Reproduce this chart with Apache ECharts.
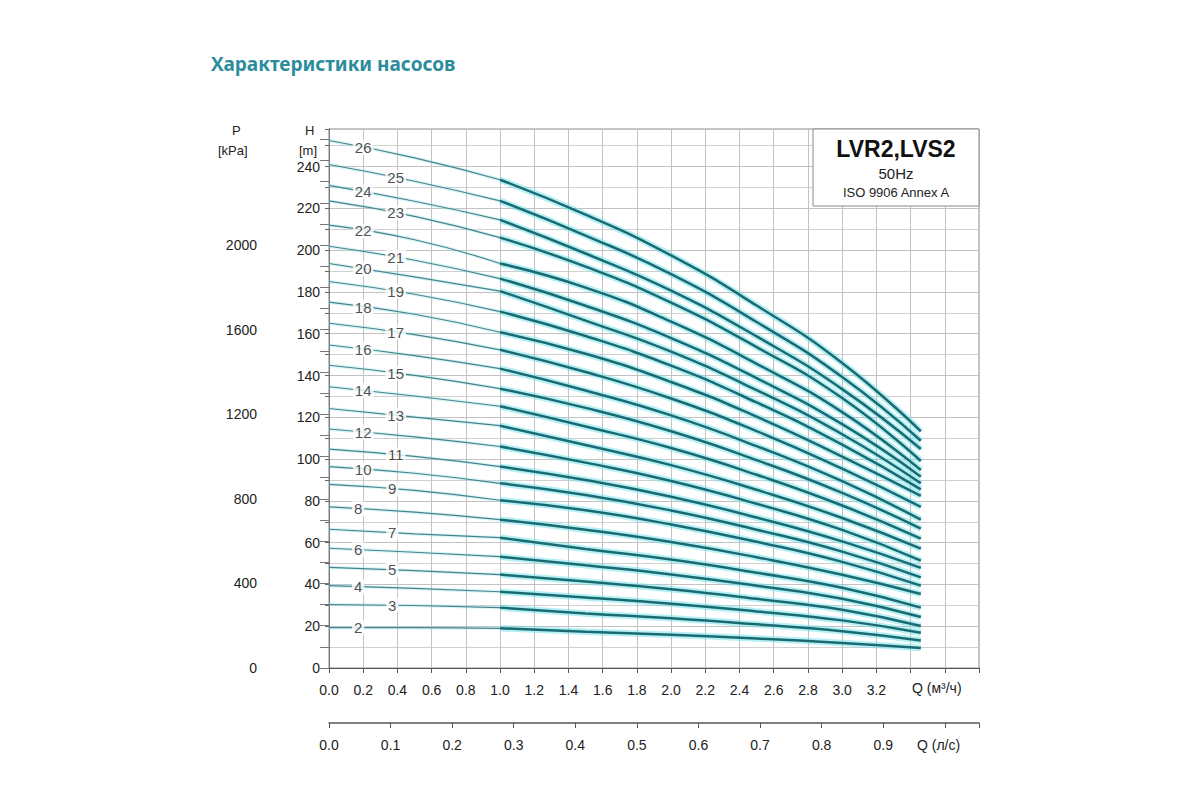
<!DOCTYPE html>
<html>
<head>
<meta charset="utf-8">
<script src="https://cdn.jsdelivr.net/npm/echarts@6/dist/echarts.min.js"></script>
<style>html,body{margin:0;padding:0;background:#fff}#c{width:1200px;height:800px}</style>
</head>
<body>
<div id="c"></div>
<script>
// Flow points (m³/h) at which heads were read
const flowQ = [0, 0.5, 1.0, 1.5, 2.0, 2.5, 3.0, 3.46];
// Head (m) per number of stages
const H26 = [252.5, 244.2, 233.7, 217.0, 197.5, 173.5, 146.0, 113.3];
const H25 = [241.0, 233.0, 223.6, 207.0, 188.5, 165.6, 139.3, 108.8];
const H24 = [231.0, 223.4, 214.5, 198.4, 180.6, 158.7, 133.5, 104.8];
const H23 = [223.6, 216.2, 206.0, 192.1, 174.9, 153.6, 129.2, 99.1];
const H22 = [212.0, 205.0, 193.6, 182.1, 165.8, 145.6, 122.5, 94.8];
const H21 = [201.9, 195.2, 186.4, 173.4, 157.9, 138.7, 116.7, 91.6];
const H20 = [193.6, 187.2, 180.4, 166.3, 151.4, 133.0, 111.9, 88.4];
const H19 = [185.0, 178.9, 170.6, 158.9, 144.7, 127.1, 106.9, 85.5];
const H18 = [175.1, 169.3, 160.7, 150.4, 136.9, 120.3, 101.2, 82.4];
const H17 = [165.0, 159.6, 152.3, 141.7, 129.0, 113.4, 95.4, 77.1];
const H16 = [154.6, 149.5, 143.3, 132.8, 120.9, 106.2, 89.4, 71.0];
const H15 = [144.9, 140.1, 133.7, 124.5, 113.3, 99.5, 83.8, 66.7];
const H14 = [134.6, 130.2, 125.3, 115.6, 105.3, 92.5, 77.8, 61.9];
const H13 = [124.2, 120.1, 116.0, 106.7, 97.1, 85.3, 71.8, 57.1];
const H12 = [114.4, 110.6, 106.0, 98.3, 89.5, 78.6, 66.1, 51.4];
const H11 = [104.8, 101.3, 96.4, 90.0, 82.0, 72.0, 60.6, 47.9];
const H10 = [96.4, 93.2, 88.4, 82.8, 75.4, 66.2, 55.7, 43.4];
const H9  = [87.9, 85.0, 80.3, 75.5, 68.7, 60.4, 50.8, 39.4];
const H8  = [77.1, 74.6, 71.0, 66.2, 60.3, 53.0, 44.6, 35.4];
const H7  = [66.4, 64.2, 62.4, 57.0, 51.9, 45.6, 38.4, 28.9];
const H6  = [57.3, 55.4, 53.3, 49.2, 44.8, 39.4, 33.1, 24.4];
const H5  = [48.2, 46.6, 44.7, 41.4, 37.7, 33.1, 27.9, 20.1];
const H4  = [39.4, 38.1, 36.5, 33.8, 30.8, 27.1, 22.8, 16.9];
const H3  = [30.4, 29.9, 28.9, 26.1, 23.8, 20.9, 17.6, 13.2];
const H2  = [19.3, 19.3, 19.0, 17.4, 15.9, 14.1, 12.0, 9.6];

const stages = [26,25,24,23,22,21,20,19,18,17,16,15,14,13,12,11,10,9,8,7,6,5,4,3,2];
const heads  = [H26,H25,H24,H23,H22,H21,H20,H19,H18,H17,H16,H15,H14,H13,H12,H11,H10,H9,H8,H7,H6,H5,H4,H3,H2];
// flow at which each stage-number label sits on its curve
const labelQ = [0.2,0.39,0.2,0.39,0.2,0.39,0.2,0.39,0.2,0.39,0.2,0.39,0.2,0.39,0.2,0.39,0.2,0.37,0.17,0.37,0.17,0.37,0.17,0.37,0.17];

const qTicks = [0.0,0.2,0.4,0.6,0.8,1.0,1.2,1.4,1.6,1.8,2.0,2.2,2.4,2.6,2.8,3.0,3.2];
const lsTicks = [0.0,0.1,0.2,0.3,0.4,0.5,0.6,0.7,0.8,0.9];
const hTicks = [0,20,40,60,80,100,120,140,160,180,200,220,240];
const pTicks = [0,400,800,1200,1600,2000];

const Q_MAX = 3.8, H_MAX = 258, KPA_PER_M = 9.88;
const FONT = '"Liberation Sans", Arial, sans-serif';

const series = [];
const labelData = [];
stages.forEach((n, i) => {
  const h = heads[i];
  const pts = flowQ.map((q, k) => [q, h[k]]);
  const thin = pts.slice(0, 3), thick = pts.slice(2);
  series.push({type:'line', data: thin, smooth:true, symbol:'none', silent:true, z:3,
    lineStyle:{color:'rgba(150,225,232,0.35)', width:3.5}});
  series.push({type:'line', data: thin, smooth:true, symbol:'none', silent:true, z:4,
    lineStyle:{color:'#47848a', width:1.15}});
  series.push({type:'line', data: thick, smooth:true, symbol:'none', silent:true, z:5,
    lineStyle:{color:'rgba(110,225,235,0.5)', width:6.5}});
  series.push({type:'line', data: thick, smooth:true, symbol:'none', silent:true, z:6,
    lineStyle:{color:'#1a6a71', width:2.5}});
  const lq = labelQ[i];
  const lh = h[0] + (h[1] - h[0]) * (lq - flowQ[0]) / (flowQ[1] - flowQ[0]);
  labelData.push([lq, lh, n]);
});
series.push({type:'scatter', data: labelData, symbolSize:1, z:10, silent:true,
  itemStyle:{color:'rgba(0,0,0,0)'},
  label:{show:true, position:'inside', formatter: p => String(p.value[2]),
    backgroundColor:'#fff', padding:[0,2], color:'#222', fontSize:15, fontFamily:FONT}});

const near = (v, arr) => arr.some(t => Math.abs(t - v) < 1e-6);

const option = {
  animation:false,
  backgroundColor:'#fff',
  title:{text:'Характеристики насосов', left:206, top:49,
    textStyle:{color:'#2b8c9b', fontSize:19, fontWeight:'bold', fontFamily:'"Noto Sans", "Open Sans", sans-serif'}},
  grid:{left:329, right:221, top:129, bottom:132, show:true, borderColor:'#8a8a8a', borderWidth:1, backgroundColor:'rgba(0,0,0,0)'},
  xAxis:[
    {type:'value', min:0, max:Q_MAX, interval:0.2, position:'bottom',
     axisLine:{show:true, lineStyle:{color:'#555'}},
     axisTick:{show:true, length:5, lineStyle:{color:'#555'}},
     axisLabel:{margin:15, color:'#222', fontSize:14, fontFamily:FONT,
       formatter: v => near(v, qTicks) ? v.toFixed(1) : ''},
     splitLine:{show:true, lineStyle:{color:'#c2c2c2', width:1}}},
    {type:'value', min:0, max:Q_MAX/3.6, interval:0.1, position:'bottom', offset:55,
     axisLine:{show:true, onZero:false, lineStyle:{color:'#555', width:1.5}},
     axisTick:{show:true, length:5, inside:false, lineStyle:{color:'#555'}},
     axisLabel:{margin:15, color:'#222', fontSize:14, fontFamily:FONT,
       formatter: v => near(v, lsTicks) ? v.toFixed(1) : ''},
     splitLine:{show:false}}
  ],
  yAxis:[
    {type:'value', min:0, max:H_MAX, interval:20, position:'left',
     axisLine:{show:true, lineStyle:{color:'#666'}},
     axisTick:{show:true, length:4, lineStyle:{color:'#666'}},
     minorTick:{show:true, splitNumber:2, length:4, lineStyle:{color:'#666'}},
     axisLabel:{margin:9, color:'#222', fontSize:14, fontFamily:FONT, showMaxLabel:false,
       formatter: v => near(v, hTicks) ? String(Math.round(v)) : ''},
     splitLine:{show:true, lineStyle:{color:'#c2c2c2'}},
     minorSplitLine:{show:true, lineStyle:{color:'#d0d0d0'}}},
    {type:'value', min:0, max:H_MAX*KPA_PER_M, interval:100, position:'left', offset:52,
     axisLine:{show:true, lineStyle:{color:'#777'}},
     axisTick:{show:true, length:9, lineStyle:{color:'#777'}},
     axisLabel:{margin:20, color:'#222', fontSize:14, fontFamily:FONT, showMaxLabel:false,
       formatter: v => near(Math.round(v), pTicks) ? String(Math.round(v)) : ''},
     splitLine:{show:false}}
  ],
  graphic:[
    {type:'text', left:232, top:124, style:{text:'P', fontSize:13, fontFamily:FONT, fill:'#222'}},
    {type:'text', left:218, top:144, style:{text:'[kPa]', fontSize:13, fontFamily:FONT, fill:'#222'}},
    {type:'text', left:305, top:124, style:{text:'H', fontSize:13, fontFamily:FONT, fill:'#222'}},
    {type:'text', left:299, top:144, style:{text:'[m]', fontSize:13, fontFamily:FONT, fill:'#222'}},
    {type:'text', left:912, top:681, style:{text:'Q (м³/ч)', fontSize:14, fontFamily:FONT, fill:'#222'}},
    {type:'text', left:917, top:738, style:{text:'Q (л/с)', fontSize:14, fontFamily:FONT, fill:'#222'}},
    {type:'rect', shape:{x:813, y:129, width:166, height:77}, z:20,
     style:{fill:'#fff', stroke:'#8a8a8a', lineWidth:1}},
    {type:'text', x:896, y:137, z:21, style:{text:'LVR2,LVS2', fontSize:23, fontWeight:'bold', fontFamily:FONT, fill:'#111', align:'center'}},
    {type:'text', x:896, y:166, z:21, style:{text:'50Hz', fontSize:15, fontFamily:FONT, fill:'#222', align:'center'}},
    {type:'text', x:896, y:186, z:21, style:{text:'ISO 9906 Annex A', fontSize:13, fontFamily:FONT, fill:'#222', align:'center'}}
  ],
  series: series
};
const chart = echarts.init(document.getElementById('c'), null, {renderer:'svg'});
chart.setOption(option);
</script>
</body>
</html>
